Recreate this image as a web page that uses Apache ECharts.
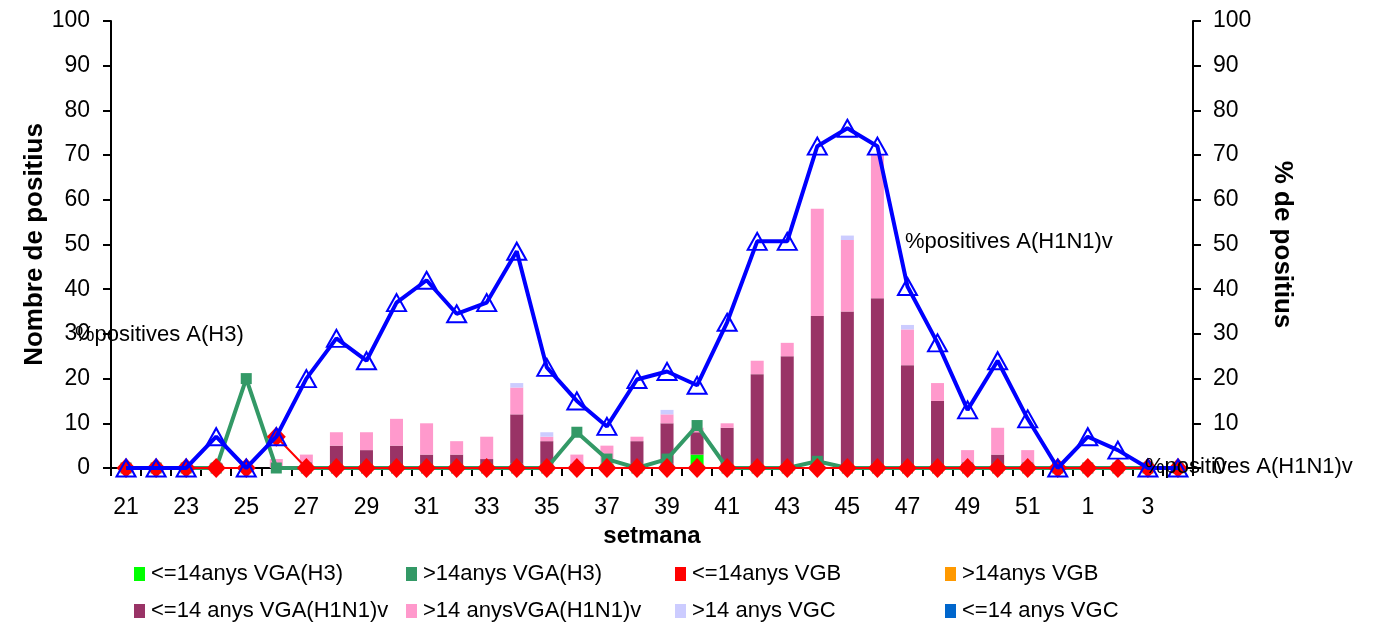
<!DOCTYPE html>
<html>
<head>
<meta charset="utf-8">
<script src="https://cdn.jsdelivr.net/npm/echarts@6/dist/echarts.min.js"></script>
<style>
  html, body { margin: 0; padding: 0; background: #fff; }
  #chart { width: 1386px; height: 626px; }
</style>
</head>
<body>
<div id="chart"></div>
<script>
// setmanes 21..52 i 1..4
const weeks = ['21','22','23','24','25','26','27','28','29','30','31','32','33','34','35','36',
  '37','38','39','40','41','42','43','44','45','46','47','48','49','50','51','52','1','2','3','4'];

// nombre de positius (barres apilades)
const h3Under14   = [0,0,0,0,0,0,0,0,0,0,0,0,0,0,0,0,1,0,0,3,0,0,0,0,0,0,0,0,0,0,0,0,0,0,0,0];
const h3Over14    = [0,0,0,0,0,0,0,0,0,0,0,0,0,0,0,0,0,0,0,0,0,0,0,0,0,0,0,0,0,0,0,0,0,0,0,0];
const bUnder14    = [0,0,0,0,0,0,0,0,0,0,0,0,0,0,0,0,0,0,0,0,0,0,0,0,0,0,0,0,0,0,0,0,0,0,0,0];
const bOver14     = [0,0,0,0,0,0,0,0,0,0,0,0,0,0,0,0,0,0,0,0,0,0,0,0,0,0,0,0,0,0,0,0,0,0,0,0];
const h1n1Under14 = [0,0,0,1,0,0,0,5,4,5,3,3,2,11,6,1,0,6,9,5,9,21,25,34,35,38,23,15,1,3,1,0,0,0,0,0];
const h1n1Over14  = [0,0,0,0,0,2,3,3,4,6,7,3,5,6,1,2,4,1,2,1,1,3,3,24,16,32,8,4,3,6,3,0,0,0,0,0];
const vgcOver14   = [0,0,0,0,0,0,0,0,0,0,0,0,0,1,1,0,0,0,1,0,0,0,0,0,1,0,1,0,0,0,0,0,0,0,0,0];
const vgcUnder14  = [0,0,0,0,0,0,0,0,0,0,0,0,0,1,0,0,0,0,1,0,0,0,0,0,0,0,0,0,0,0,0,0,0,0,0,0];

// % de positius (línies)
const pctH3   = [0,0,0,0,20,0,0,0,0,0,0,0,0,0,0,8,2,0,2,9.5,0,0,0,1.5,0,0,0,0,0,0,0,0,0,0,0,0];
const pctB    = [0,0,0,0,0,7,0,0,0,0,0,0,0,0,0,0,0,0,0,0,0,0,0,0,0,0,0,0,0,0,0,0,0,0,0,0];
const pctH1N1 = [0,0,0,7,0,7,20,29,24,37,42,34.5,37,48.5,22.5,15,9.3,19.8,21.6,18.5,32.6,50.7,50.7,72,76,72,40.6,28,13,24,11,0,7,4,0,0];

const yTicks = { min: 0, max: 100, interval: 10 };

// ordre de la llegenda (2 files x 4 columnes)
const legendRows = [
  ['<=14anys VGA(H3)', '>14anys VGA(H3)', '<=14anys VGB', '>14anys VGB'],
  ['<=14 anys VGA(H1N1)v', '>14 anysVGA(H1N1)v', '>14 anys VGC', '<=14 anys VGC']
];

const FONT = 'Liberation Sans, Arial, sans-serif';

const chart = echarts.init(document.getElementById('chart'));

const barSeries = [
  { name: '<=14 anys VGC', data: vgcUnder14, color: '#0066CC' },
  { name: '<=14anys VGA(H3)', data: h3Under14, color: '#00FF00' },
  { name: '>14anys VGA(H3)', data: h3Over14, color: '#339966' },
  { name: '<=14anys VGB', data: bUnder14, color: '#FF0000' },
  { name: '>14anys VGB', data: bOver14, color: '#FF9900' },
  { name: '<=14 anys VGA(H1N1)v', data: h1n1Under14, color: '#993366' },
  { name: '>14 anysVGA(H1N1)v', data: h1n1Over14, color: '#FF99CC' },
  { name: '>14 anys VGC', data: vgcOver14, color: '#CCCCFF' }
].map(s => ({
  name: s.name,
  type: 'bar',
  stack: 'positius',
  barWidth: 13,
  data: s.data,
  itemStyle: { color: s.color },
  z: 2
}));

// una llegenda per cel·la, per fixar les columnes
const colLeft = [129, 401, 670, 940];
const rowTop = [558, 595];
const legends = [];
legendRows.forEach((row, r) => {
  row.forEach((name, c) => {
    legends.push({
      left: colLeft[c],
      top: rowTop[r],
      itemWidth: 11,
      itemHeight: 14,
      icon: 'rect',
      data: [name],
      textStyle: { fontFamily: FONT, fontSize: 22, color: '#000', padding: [0, 0, 0, 1] }
    });
  });
});

const axisTitle = { fontFamily: FONT, fontSize: 26, fontWeight: 'bold', color: '#000' };

const option = {
  animation: false,
  backgroundColor: '#fff',
  textStyle: { fontFamily: FONT },
  grid: { left: 111, right: 193, top: 21, bottom: 158 },
  legend: legends,
  xAxis: {
    type: 'category',
    data: weeks,
    boundaryGap: true,
    name: 'setmana',
    nameLocation: 'middle',
    nameGap: 49,
    nameTextStyle: { fontFamily: FONT, fontSize: 24, fontWeight: 'bold', color: '#000' },
    axisLine: { lineStyle: { color: '#000', width: 2 } },
    axisTick: { show: true, interval: 0, length: 8, lineStyle: { color: '#000', width: 2 } },
    axisLabel: { interval: 1, margin: 28, fontFamily: FONT, fontSize: 23, color: '#000' },
    splitLine: { show: false }
  },
  yAxis: [
    {
      type: 'value',
      position: 'left',
      min: yTicks.min, max: yTicks.max, interval: yTicks.interval,
      name: 'Nombre de positius',
      nameLocation: 'middle',
      nameRotate: 90,
      nameGap: 63,
      nameMoveOverlap: false,
      nameTextStyle: axisTitle,
      axisLine: { show: true, lineStyle: { color: '#000', width: 2 } },
      axisTick: { show: true, length: 8, lineStyle: { color: '#000', width: 2 } },
      axisLabel: { margin: 21, fontFamily: FONT, fontSize: 23, color: '#000' },
      splitLine: { show: false }
    },
    {
      type: 'value',
      position: 'right',
      min: yTicks.min, max: yTicks.max, interval: yTicks.interval,
      name: '% de positius',
      nameLocation: 'middle',
      nameRotate: -90,
      nameGap: 76,
      nameMoveOverlap: false,
      nameTextStyle: axisTitle,
      axisLine: { show: true, lineStyle: { color: '#000', width: 2 } },
      axisTick: { show: true, length: 8, lineStyle: { color: '#000', width: 2 } },
      axisLabel: { margin: 20, fontFamily: FONT, fontSize: 23, color: '#000' },
      splitLine: { show: false }
    }
  ],
  series: barSeries.concat([
    {
      name: '%positives A(H3)',
      type: 'line',
      yAxisIndex: 1,
      data: pctH3,
      symbol: 'rect',
      symbolSize: 11,
      lineStyle: { color: '#339966', width: 4 },
      itemStyle: { color: '#339966' },
      z: 3
    },
    {
      name: '%positives B',
      type: 'line',
      yAxisIndex: 1,
      data: pctB,
      symbol: 'diamond',
      symbolSize: [19, 20],
      lineStyle: { color: '#FF0000', width: 2 },
      itemStyle: { color: '#FF0000' },
      z: 4
    },
    {
      name: '%positives A(H1N1)v',
      type: 'line',
      yAxisIndex: 1,
      data: pctH1N1,
      symbol: 'triangle',
      symbolSize: [19, 17],
      lineStyle: { color: '#0000FF', width: 4 },
      itemStyle: { color: 'rgba(255,255,255,0)', borderColor: '#0000FF', borderWidth: 2 },
      z: 5
    }
  ]),
  graphic: [
    { type: 'text', left: 75, top: 324, z: 10,
      style: { text: '%positives A(H3)', font: '22px ' + FONT, fill: '#000' } },
    { type: 'text', left: 905, top: 231, z: 10,
      style: { text: '%positives A(H1N1)v', font: '22px ' + FONT, fill: '#000' } },
    { type: 'text', left: 1145, top: 456, z: 10,
      style: { text: '%positives A(H1N1)v', font: '22px ' + FONT, fill: '#000' } }
  ]
};

chart.setOption(option);
</script>
</body>
</html>
